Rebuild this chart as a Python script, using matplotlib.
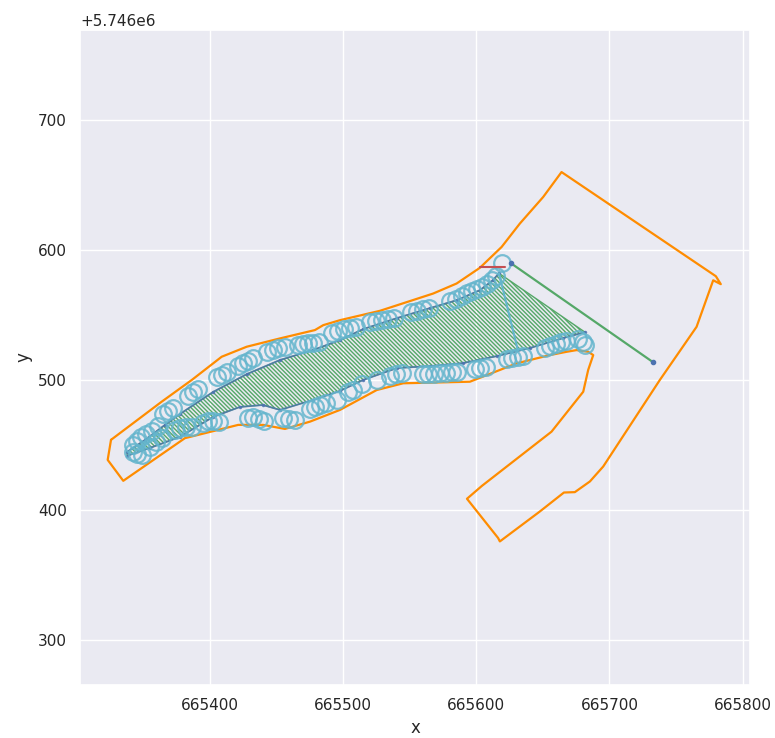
import matplotlib
matplotlib.use("Agg")
import matplotlib.pyplot as plt
from matplotlib.patches import Polygon
import seaborn as sns

sns.set_theme(style="darkgrid")
plt.rcParams["font.family"] = ["DejaVu Sans"]
plt.rcParams["hatch.linewidth"] = 1.0

# Buffer outline around the channel and the survey area
hull_x = [665325.7, 665363.7, 665386.3, 665408.8, 665427.6, 665452.6, 665478.8, 665485.1,
          665497.6, 665527.6, 665567.6, 665585.2, 665602.7, 665619.0, 665632.7, 665650.2,
          665664.0, 665779.9, 665783.6, 665777.9, 665765.4, 665737.8, 665695.3, 665685.3,
          665674.0, 665665.8, 665647.7, 665617.7, 665616.4, 665593.0, 665604.2, 665656.5,
          665680.3, 665684.0, 665687.8, 665684.0, 665675.3, 665667.8, 665655.3, 665630.3,
          665595.2, 665545.1, 665525.2, 665497.6, 665475.1, 665456.3, 665440.0, 665421.2,
          665381.2, 665334.9, 665323.2, 665325.7]
hull_y = [5746454.0, 5746483.3, 5746500.0, 5746517.9, 5746525.6, 5746532.0, 5746538.4, 5746542.2,
          5746546.0, 5746553.2, 5746566.5, 5746574.2, 5746586.3, 5746602.3, 5746620.3, 5746640.7,
          5746659.9, 5746579.8, 5746573.7, 5746576.7, 5746540.9, 5746500.0, 5746433.5, 5746422.0,
          5746413.8, 5746413.5, 5746398.9, 5746375.9, 5746378.5, 5746408.7, 5746418.6, 5746460.3,
          5746491.0, 5746507.7, 5746519.2, 5746521.7, 5746523.0, 5746521.7, 5746519.2, 5746512.8,
          5746498.7, 5746497.5, 5746492.3, 5746477.0, 5746468.0, 5746462.4, 5746465.5, 5746465.5,
          5746455.3, 5746422.5, 5746438.6, 5746454.0]

# Left and right bank lines
upper_x = [665337.7, 665351.2, 665366.2, 665377.5, 665402.3, 665427.8, 665452.6, 665477.3,
           665497.6, 665514.9, 665540.4, 665565.2, 665585.4, 665602.7, 665612.5, 665617.0]
upper_y = [5746444.7, 5746453.9, 5746465.5, 5746473.9, 5746490.8, 5746504.6, 5746515.4, 5746523.0,
           5746530.7, 5746539.1, 5746547.6, 5746555.3, 5746561.4, 5746569.1, 5746576.8, 5746582.1]
lower_x = [665337.7, 665355.0, 665377.5, 665402.3, 665422.5, 665439.8, 665452.6, 665477.3,
           665497.6, 665514.9, 665540.4, 665565.2, 665590.0, 665615.5, 665640.3, 665665.0, 665681.6]
lower_y = [5746441.7, 5746447.8, 5746456.3, 5746471.6, 5746479.3, 5746480.8, 5746477.0, 5746484.7,
           5746491.6, 5746500.0, 5746509.2, 5746510.7, 5746513.0, 5746518.4, 5746524.6, 5746532.2,
           5746536.8]

# Surveyed bank points
pts_upper_x = [665342.2, 665345.2, 665348.2, 665351.9, 665356.5, 665361.0, 665364.7, 665368.5,
               665372.2, 665383.5, 665387.2, 665391.0, 665405.3, 665409.0, 665412.8, 665421.0,
               665424.8, 665428.5, 665432.3, 665442.8, 665447.3, 665451.1, 665456.3, 665466.1,
               665469.8, 665473.6, 665477.3, 665481.8, 665491.6, 665496.1, 665500.6, 665505.1,
               665509.6, 665520.1, 665524.6, 665529.1, 665533.6, 665538.1, 665550.9, 665555.4,
               665559.9, 665564.4, 665580.2, 665584.7, 665589.2, 665593.0, 665596.7, 665600.5,
               665604.2, 665608.0, 665611.7, 665614.7, 665619.2]
pts_upper_y = [5746450.1, 5746453.2, 5746456.3, 5746458.6, 5746460.9, 5746464.7, 5746473.9, 5746476.2,
               5746478.5, 5746487.7, 5746490.8, 5746493.1, 5746502.3, 5746503.8, 5746506.1, 5746510.7,
               5746513.0, 5746514.6, 5746516.9, 5746521.5, 5746523.0, 5746524.6, 5746525.3, 5746526.9,
               5746527.6, 5746528.4, 5746528.4, 5746529.2, 5746536.1, 5746537.6, 5746539.1, 5746539.9,
               5746540.7, 5746544.5, 5746545.3, 5746546.1, 5746546.8, 5746547.6, 5746552.2, 5746553.0,
               5746554.5, 5746555.3, 5746560.6, 5746562.2, 5746564.5, 5746566.8, 5746568.3, 5746569.8,
               5746571.4, 5746573.7, 5746576.8, 5746579.8, 5746589.8]
pts_lower_x = [665342.2, 665345.2, 665348.9, 665355.0, 665359.5, 665364.0, 665373.7, 665377.5,
               665382.0, 665386.5, 665394.7, 665398.5, 665402.3, 665406.8, 665428.5, 665432.3,
               665436.8, 665440.5, 665454.8, 665459.3, 665463.8, 665475.1, 665478.8, 665482.6,
               665487.1, 665495.4, 665503.6, 665507.4, 665514.1, 665525.4, 665535.1, 665539.6,
               665544.2, 665559.9, 665563.7, 665568.2, 665572.7, 665577.2, 665581.7, 665585.4,
               665599.0, 665602.7, 665607.2, 665623.0, 665626.7, 665631.2, 665635.0, 665651.5,
               665655.3, 665659.8, 665663.5, 665667.3, 665676.3, 665680.0, 665681.6]
pts_lower_y = [5746444.7, 5746443.2, 5746442.4, 5746448.6, 5746452.4, 5746455.5, 5746461.6, 5746463.2,
               5746463.9, 5746463.9, 5746467.0, 5746468.5, 5746468.5, 5746467.8, 5746470.8, 5746471.6,
               5746470.1, 5746468.5, 5746470.8, 5746470.1, 5746469.3, 5746477.7, 5746479.3, 5746480.8,
               5746482.3, 5746484.7, 5746490.8, 5746492.3, 5746496.9, 5746500.0, 5746503.1, 5746504.6,
               5746505.4, 5746504.6, 5746504.6, 5746504.6, 5746505.4, 5746505.4, 5746506.1, 5746506.1,
               5746508.4, 5746509.2, 5746510.0, 5746516.1, 5746516.9, 5746517.7, 5746518.4, 5746524.6,
               5746526.1, 5746527.6, 5746529.2, 5746529.9, 5746531.5, 5746529.2, 5746526.9]

# Auxiliary segments at the channel mouth
mouth_x = [665602.7, 665621.5]
mouth_y = [5746586.7, 5746586.7]
closing_x = [665617.0, 665631.2]
closing_y = [5746582.1, 5746523.0]
outlet_x = [665626.0, 665732.6]
outlet_y = [5746589.8, 5746513.8]

fig = plt.figure(figsize=(7.75, 7.38), dpi=100)
ax = fig.add_axes([0.1032, 0.0718, 0.8645, 0.8875])

ax.plot(hull_x, hull_y, color="darkorange", lw=1.6, zorder=2)

channel = list(zip(upper_x, upper_y)) + list(zip(lower_x[::-1], lower_y[::-1]))
ax.add_patch(Polygon(channel, closed=True, fill=False, hatch="\\" * 8,
                     edgecolor="#55A868", lw=1.0, zorder=3))

ax.plot(upper_x, upper_y, ".-", color="#4C72B0", lw=1.3, ms=3, alpha=0.8, zorder=4)
ax.plot(lower_x, lower_y, ".-", color="#4C72B0", lw=1.3, ms=3, alpha=0.8, zorder=4)

ax.plot(pts_upper_x, pts_upper_y, "o", mfc="none", mec="#64B5CD", ms=12, mew=1.6,
        alpha=0.85, zorder=5)
ax.plot(pts_lower_x, pts_lower_y, "o", mfc="none", mec="#64B5CD", ms=12, mew=1.6,
        alpha=0.85, zorder=5)

ax.plot(mouth_x, mouth_y, color="#C44E52", lw=1.5, zorder=6)
ax.plot(closing_x, closing_y, color="#64B5CD", lw=1.5, zorder=6)
ax.plot(outlet_x, outlet_y, color="#55A868", lw=1.6, zorder=6)
ax.plot(outlet_x, outlet_y, ".", color="#4C72B0", ms=6, zorder=7)

ax.set_xlim(665302.4, 665805.5)
ax.set_ylim(5746265.5, 5746769.1)
ax.set_xlabel("x")
ax.set_ylabel("y")

fig.savefig("out.png", dpi=100)
